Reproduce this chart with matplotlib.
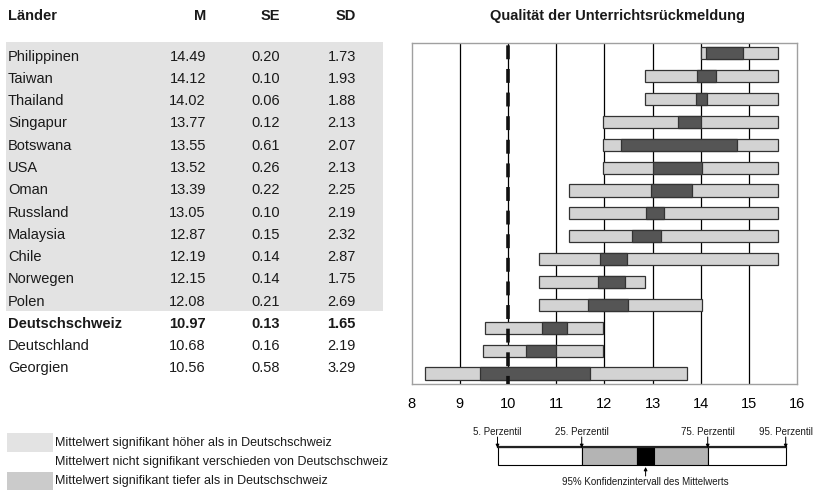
import matplotlib.pyplot as plt
from matplotlib.patches import Rectangle

plt.rcParams['font.family'] = ['Liberation Sans', 'DejaVu Sans']
plt.rcParams['lines.scale_dashes'] = False

# Country results for "Qualität der Unterrichtsrückmeldung"
laender = ['Philippinen', 'Taiwan', 'Thailand', 'Singapur', 'Botswana', 'USA', 'Oman',
           'Russland', 'Malaysia', 'Chile', 'Norwegen', 'Polen', 'Deutschschweiz',
           'Deutschland', 'Georgien']
mittel = [14.49, 14.12, 14.02, 13.77, 13.55, 13.52, 13.39, 13.05, 12.87, 12.19, 12.15,
          12.08, 10.97, 10.68, 10.56]
se = [0.20, 0.10, 0.06, 0.12, 0.61, 0.26, 0.22, 0.10, 0.15, 0.14, 0.14, 0.21, 0.13,
      0.16, 0.58]
sd = [1.73, 1.93, 1.88, 2.13, 2.07, 2.13, 2.25, 2.19, 2.32, 2.87, 1.75, 2.69, 1.65,
      2.19, 3.29]
# 5th and 95th percentiles
p5 = [14.01, 12.85, 12.85, 11.97, 11.97, 11.97, 11.27, 11.27, 11.27, 10.64, 10.64,
      10.64, 9.52, 9.49, 8.29]
p95 = [15.59, 15.59, 15.59, 15.59, 15.59, 15.59, 15.59, 15.59, 15.59, 15.59, 12.85,
       14.03, 11.97, 11.97, 13.72]
ref_land = 'Deutschschweiz'
ref_linie = 10
x_ticks = list(range(8, 17))

title = 'Qualität der Unterrichtsrückmeldung'
legende = ['Mittelwert signifikant höher als in Deutschschweiz',
           'Mittelwert nicht signifikant verschieden von Deutschschweiz',
           'Mittelwert signifikant tiefer als in Deutschschweiz']
schema_labels = ['5. Perzentil', '25. Perzentil', '75. Perzentil', '95. Perzentil']
ki_label = '95% Konfidenzintervall des Mittelwerts'

W, H = 815, 490
fig = plt.figure(figsize=(W / 100, H / 100), dpi=100)

# background axes in pixel coordinates for table and legends
ax0 = fig.add_axes([0, 0, 1, 1])
ax0.set_xlim(0, W)
ax0.set_ylim(H, 0)
ax0.axis('off')

fs = 10.5
txt = '#1a1a1a'
ax0.text(8, 16, 'Länder', fontsize=fs, fontweight='bold', va='center', color=txt)
for x, h in zip([206, 280, 356], ['M', 'SE', 'SD']):
    ax0.text(x, 16, h, fontsize=fs, fontweight='bold', va='center', ha='right', color=txt)

ax0.add_patch(Rectangle((6, 42), 377, 269, color='#e3e3e3', lw=0))
for i, name in enumerate(laender):
    y = 56.7 + 22.26 * i
    w = 'bold' if name == ref_land else 'normal'
    ax0.text(8, y, name, fontsize=fs, fontweight=w, va='center', color=txt)
    for x, v in zip([206, 280, 356], [mittel[i], se[i], sd[i]]):
        ax0.text(x, y, f'{v:.2f}', fontsize=fs, fontweight=w, va='center', ha='right',
                 color=txt)

ax0.text(617, 16, title, fontsize=fs, fontweight='bold', va='center', ha='center',
         color=txt)

# significance legend
ax0.add_patch(Rectangle((7, 433), 46, 19, color='#e3e3e3', lw=0))
ax0.add_patch(Rectangle((7, 472), 46, 18, color='#cbcbcb', lw=0))
for y, t in zip([443, 462, 481], legende):
    ax0.text(55, y, t, fontsize=9, va='center', color=txt)

# schematic box explaining the bars
bx = [497.5, 581.7, 637.3, 654, 707.7, 785.7]
cols = ['white', '#b4b4b4', 'black', '#b4b4b4', 'white']
for k in range(5):
    ax0.add_patch(Rectangle((bx[k], 447), bx[k + 1] - bx[k], 18, facecolor=cols[k],
                            edgecolor='black', lw=0.8))
ax0.plot([bx[0], bx[-1]], [447, 447], color='#222222', lw=1.6)
for x, t in zip([bx[0], bx[1], bx[4], bx[5]], schema_labels):
    ax0.text(x, 432, t, fontsize=7, ha='center', va='center', color=txt)
    ax0.annotate('', xy=(x, 448), xytext=(x, 437),
                 arrowprops=dict(arrowstyle='-|>', color='black', lw=0.7,
                                 mutation_scale=5, shrinkA=0, shrinkB=0))
ax0.annotate('', xy=(645.6, 467), xytext=(645.6, 476),
             arrowprops=dict(arrowstyle='-|>', color='black', lw=0.7,
                             mutation_scale=5, shrinkA=0, shrinkB=0))
ax0.text(645.6, 482, ki_label, fontsize=7, ha='center', va='center', color=txt)

# main chart
ax = fig.add_axes([411.5 / W, 1 - 384 / H, 385.8 / W, 341.3 / H])
n = len(laender)
rows = list(range(n))
ax.set_xlim(8, 16)
ax.set_ylim(n - 1 + 0.46, -0.46)
for x in x_ticks[1:-1]:
    ax.axvline(x, color='black', lw=0.9, zorder=1)

breite = [b - a for a, b in zip(p5, p95)]
ax.barh(rows, breite, left=p5, height=0.53, color='#d3d3d3', edgecolor='#333333',
        lw=0.9, zorder=2)
ki_lo = [m - 1.96 * s for m, s in zip(mittel, se)]
ki_w = [2 * 1.96 * s for s in se]
ax.barh(rows, ki_w, left=ki_lo, height=0.53, color='#555555', edgecolor='#333333',
        lw=0.9, zorder=3)

# dashed reference line at 10
ax.plot([ref_linie, ref_linie], [-0.46, n - 1 + 0.46], color='#111111', lw=2.6,
        linestyle=(15.3, (10, 7)), zorder=4, dash_capstyle='butt')

ax.set_xticks(x_ticks)
ax.set_yticks([])
ax.tick_params(axis='x', length=0, pad=9, labelsize=10.5)
for s in ax.spines.values():
    s.set_color('#a0a0a0')
    s.set_linewidth(1)

plt.savefig('out.png', dpi=100)
